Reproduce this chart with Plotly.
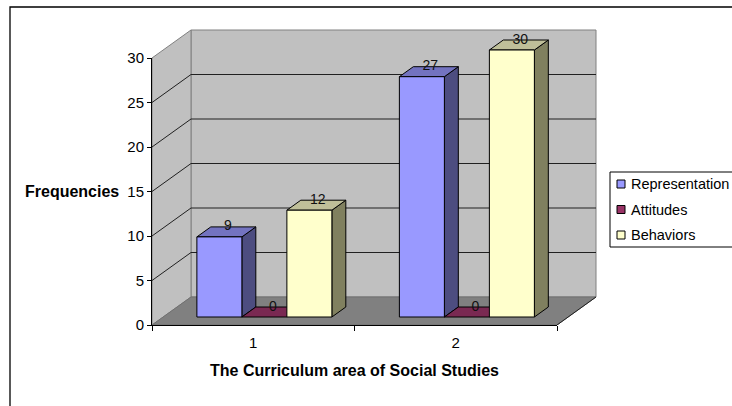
import plotly.graph_objects as go

# ---------------- data ----------------
categories = ["1", "2"]
series_names = ["Representation", "Attitudes", "Behaviors"]
representation = [9, 27]
attitudes = [0, 0]
behaviors = [12, 30]
y_ticks = [0, 5, 10, 15, 20, 25, 30]
x_title = "The Curriculum area of Social Studies"
y_title = "Frequencies"

series_values = [representation, attitudes, behaviors]
front_colors = ["#9999FF", "#993366", "#FFFFCC"]
top_colors = ["#7373C0", "#7A2952", "#BFBF99"]
side_colors = ["#4D4D80", "#5C1F3D", "#80805F"]

FONT = "Arial, 'Liberation Sans', sans-serif"

# ---------------- layout geometry ----------------
W, H = 732, 406
ML, MR, MT, MB = 152, 130, 25, 81
PW = W - ML - MR
PH = H - MT - MB
PX_PER_X = 202.5          # pixels per category
PX_PER_Y = 8.9            # pixels per value unit
DX = 39 / PX_PER_X        # 3-D depth offsets (data units)
DY = 28 / PX_PER_Y
F1, F2 = 8 / 28, 18 / 28  # bar front / back depth fractions
BW = 2 / 9                # bar width in category units
ymax = max(y_ticks)
ncat = len(categories)
x_lo, x_hi = 0.5, ncat + 0.5


def px2paper_x(px):
    return (px - ML) / PW


def px2paper_y(py):
    return (H - MB - py) / PH


def poly(xs, ys, fill, line="black", lw=1):
    return go.Scatter(x=xs + [xs[0]], y=ys + [ys[0]], mode="lines", fill="toself",
                      fillcolor=fill, line=dict(color=line, width=lw),
                      hoverinfo="skip", showlegend=False)


traces = []
# back wall, left wall, floor
traces.append(poly([x_lo + DX, x_hi + DX, x_hi + DX, x_lo + DX],
                   [DY, DY, ymax + DY, ymax + DY], "#C0C0C0", "#808080"))
traces.append(poly([x_lo, x_lo + DX, x_lo + DX, x_lo],
                   [0, DY, ymax + DY, ymax], "#C0C0C0", "#808080"))
traces.append(poly([x_lo, x_hi, x_hi + DX, x_lo + DX],
                   [0, 0, DY, DY], "#808080", "#707070"))

# gridlines
gx, gy = [], []
for v in y_ticks[1:-1]:
    gx += [x_lo, x_lo + DX, x_hi + DX, None]
    gy += [v, v + DY, v + DY, None]
traces.append(go.Scatter(x=gx, y=gy, mode="lines", line=dict(color="#202020", width=1),
                         hoverinfo="skip", showlegend=False))
# floor right edge
traces.append(go.Scatter(x=[x_hi, x_hi + DX], y=[0, DY], mode="lines",
                         line=dict(color="#202020", width=1), hoverinfo="skip", showlegend=False))

# bars
ddx = (F2 - F1) * DX
ddy = (F2 - F1) * DY
label_x = [[] for _ in series_values]
label_y = [[] for _ in series_values]
for i in range(ncat):
    c = i + 1
    for k, vals in enumerate(series_values):
        v = vals[i]
        x0 = c - 1 / 3 + k * BW + F1 * DX
        x1 = x0 + BW
        y0 = F1 * DY
        yt = v + F1 * DY
        if v > 0:
            traces.append(poly([x1, x1 + ddx, x1 + ddx, x1],
                               [y0, y0 + ddy, yt + ddy, yt], side_colors[k]))
        traces.append(poly([x0, x1, x1 + ddx, x0 + ddx],
                           [yt, yt, yt + ddy, yt + ddy], top_colors[k]))
        if v > 0:
            traces.append(poly([x0, x1, x1, x0], [y0, y0, yt, yt], front_colors[k]))
        label_x[k].append((x0 + x1) / 2 + ddx / 2 + 1.5 / PX_PER_X)
        label_y[k].append(yt + ddy)

for k, vals in enumerate(series_values):
    traces.append(go.Scatter(x=label_x[k], y=label_y[k], text=[str(v) for v in vals],
                             mode="text", textposition="middle center",
                             textfont=dict(family=FONT, size=14, color="#111"),
                             hoverinfo="skip", showlegend=False, cliponaxis=False))

# dummy trace for the visible axes subplot
traces.append(go.Scatter(x=[None], y=[None], xaxis="x2", yaxis="y2",
                         showlegend=False, hoverinfo="skip"))

fig = go.Figure(traces)

shapes = []
annotations = []
# outer chart frame
shapes.append(dict(type="rect", xref="paper", yref="paper",
                   x0=px2paper_x(10), x1=px2paper_x(745),
                   y0=px2paper_y(420), y1=px2paper_y(7),
                   line=dict(color="black", width=1.3), fillcolor="rgba(0,0,0,0)"))
# legend box
shapes.append(dict(type="rect", xref="paper", yref="paper",
                   x0=px2paper_x(610), x1=px2paper_x(760),
                   y0=px2paper_y(247), y1=px2paper_y(172),
                   line=dict(color="black", width=1), fillcolor="white"))
leg_y = [184, 209.5, 235]
for k, name in enumerate(series_names):
    cy = leg_y[k]
    shapes.append(dict(type="rect", xref="paper", yref="paper",
                       x0=px2paper_x(617), x1=px2paper_x(625),
                       y0=px2paper_y(cy + 4), y1=px2paper_y(cy - 4),
                       line=dict(color="black", width=1), fillcolor=front_colors[k]))
    annotations.append(dict(text=name, xref="paper", yref="paper",
                            x=px2paper_x(629), y=px2paper_y(cy),
                            xanchor="left", yanchor="middle", showarrow=False,
                            font=dict(family=FONT, size=14.5, color="black")))

annotations.append(dict(text=y_title, xref="paper", yref="y2",
                        x=px2paper_x(121), y=15, xanchor="right", yanchor="middle",
                        showarrow=False, font=dict(family=FONT, size=16, color="black", weight="bold")))
annotations.append(dict(text=x_title, xref="x2", yref="paper",
                        x=(x_lo + x_hi) / 2, y=px2paper_y(370), xanchor="center", yanchor="middle",
                        showarrow=False, font=dict(family=FONT, size=16, color="black", weight="bold")))

fig.update_layout(
    width=W, height=H,
    margin=dict(l=ML, r=MR, t=MT, b=MB, autoexpand=False),
    paper_bgcolor="white", plot_bgcolor="rgba(0,0,0,0)",
    showlegend=False,
    xaxis=dict(domain=[0, 1], range=[x_lo, x_lo + PW / PX_PER_X], visible=False),
    yaxis=dict(domain=[0, 1], range=[0, PH / PX_PER_Y], visible=False),
    xaxis2=dict(domain=[0, (x_hi - x_lo) * PX_PER_X / PW], anchor="y2",
                range=[x_lo, x_hi], tickvals=list(range(1, ncat + 1)), ticktext=categories,
                ticks="outside", ticklen=4, tickcolor="rgba(0,0,0,0)",
                minor=dict(tickvals=[x_lo + j for j in range(ncat + 1)], ticks="outside",
                           ticklen=5, tickcolor="black", tickwidth=1, showgrid=False),
                showline=True, linecolor="black", linewidth=1,
                showgrid=False, zeroline=False,
                tickfont=dict(family=FONT, size=15, color="black")),
    yaxis2=dict(domain=[0, ymax * PX_PER_Y / PH], anchor="x2", range=[0, ymax],
                tickvals=y_ticks, ticks="outside", ticklen=4, tickcolor="black",
                showline=True, linecolor="black", linewidth=1,
                showgrid=False, zeroline=False,
                tickfont=dict(family=FONT, size=15, color="black")),
    shapes=shapes, annotations=annotations,
)

fig.write_html("out.html")
